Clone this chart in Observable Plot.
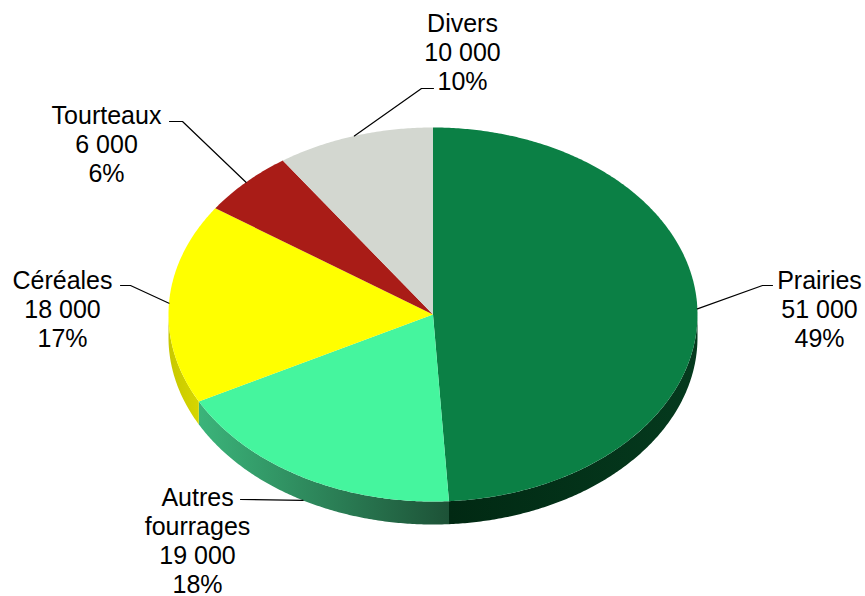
<!DOCTYPE html>
<html>
<head>
<meta charset="utf-8">
<script src="https://cdn.jsdelivr.net/npm/d3@7"></script>
<script src="https://cdn.jsdelivr.net/npm/@observablehq/plot@0.6"></script>
<style>
  html, body { margin: 0; padding: 0; background: #fff; }
  #chart { width: 865px; height: 596px; }
</style>
</head>
<body>
<div id="chart"></div>
<script>
// ---- Data ----
const categories = ["Prairies", "Autres fourrages", "Céréales", "Tourteaux", "Divers"];
const labelNames = ["Prairies", "Autres\nfourrages", "Céréales", "Tourteaux", "Divers"];
const values = [51000, 19000, 18000, 6000, 10000];
const percents = ["49%", "18%", "17%", "6%", "10%"];

// ---- Styles ----
const topColors = ["#0b8045", "#45f59e", "#ffff00", "#a91c17", "#d3d7d0"];
const sideStops = [
  ["#012913", "#053a1e"],
  ["#3bb47a", "#1d5237"],
  ["#c8c800", "#d6d600"],
  ["#6e100d", "#6e100d"],
  ["#9a9d97", "#9a9d97"]
];

// ---- Layout (pie geometry and label placement) ----
const W = 865, H = 596;
const cx = 432.5, cy = 314, rx = 264.5, ry = 187, depth = 23;
const fontSize = 25, lineStep = 29.3;
// per slice: text centre x, first baseline y, elbow point, end of horizontal segment
const labelLayout = [
  {tx: 819, ty: 285, ex: 762, ey: 285, hx: 772},
  {tx: 197, ty: 502, ex: 240, ey: 499, hx: 240},
  {tx: 62,  ty: 285, ex: 130, ey: 285, hx: 120},
  {tx: 106, ty: 120, ex: 182, ey: 121, hx: 169},
  {tx: 462, ty: 28,  ex: 421, ey: 88,  hx: 433}
];

const pt = (a, dy = 0) => [cx + rx * Math.sin(a), cy - ry * Math.cos(a) + dy];
const arcs = d3.pie().sort(null).value(d => d)(values);

function arcPoints(a0, a1, dy) {
  const n = Math.max(2, Math.ceil((a1 - a0) / (Math.PI / 360)));
  const out = [];
  for (let k = 0; k <= n; k++) out.push(pt(a0 + (a1 - a0) * k / n, dy));
  return out;
}

const topRows = [];
const sideRows = [];
arcs.forEach((arc, i) => {
  const a0 = arc.startAngle, a1 = arc.endAngle;
  const poly = [[cx, cy], ...arcPoints(a0, a1, 0), [cx, cy]];
  poly.forEach(([x, y]) => topRows.push({slice: i, x, y, fill: topColors[i]}));
  const s0 = Math.max(a0, Math.PI / 2), s1 = Math.min(a1, 3 * Math.PI / 2);
  if (s0 < s1) {
    const upper = arcPoints(s0, s1, 0);
    const lower = arcPoints(s0, s1, depth).reverse();
    [...upper, ...lower, upper[0]].forEach(([x, y]) =>
      sideRows.push({slice: i, x, y, fill: `url(#side${i})`}));
  }
});

const fmt = v => d3.format(",")(v).replace(/,/g, " ");
const labelRows = arcs.map((arc, i) => {
  const L = labelLayout[i];
  return {x: L.tx, y: L.ty - 0.71 * fontSize, text: `${labelNames[i]}\n${fmt(values[i])}\n${percents[i]}`};
});

const leaderRows = [];
arcs.forEach((arc, i) => {
  const mid = (arc.startAngle + arc.endAngle) / 2;
  const onFront = Math.cos(mid) < 0;
  const [ax, ay] = pt(mid, onFront ? depth : 0);
  const L = labelLayout[i];
  leaderRows.push({slice: i, x: ax, y: ay});
  leaderRows.push({slice: i, x: L.ex, y: L.ey});
  if (L.hx !== L.ex) leaderRows.push({slice: i, x: L.hx, y: L.ey});
});

const svg = Plot.plot({
  width: W,
  height: H,
  margin: 0,
  x: {domain: [0, W], range: [0, W], axis: null},
  y: {domain: [0, H], range: [0, H], axis: null},
  color: {type: "identity"},
  style: {fontFamily: "'Liberation Sans', Arial, sans-serif", background: "#fff"},
  marks: [
    Plot.line(sideRows, {x: "x", y: "y", z: "slice", fill: "fill", stroke: "none", curve: "linear"}),
    Plot.line(topRows, {x: "x", y: "y", z: "slice", fill: "fill", stroke: "none", curve: "linear"}),
    Plot.line(leaderRows, {x: "x", y: "y", z: "slice", stroke: "#000", strokeWidth: 1.2, curve: "linear"}),
    Plot.text(labelRows, {x: "x", y: "y", text: "text", textAnchor: "middle", lineAnchor: "top",
      lineHeight: lineStep / fontSize, fontSize: fontSize, fill: "#000"})
  ]
});

const defs = d3.select(svg).insert("defs", ":first-child");
sideStops.forEach((stops, i) => {
  const g = defs.append("linearGradient").attr("id", `side${i}`)
    .attr("x1", 0).attr("y1", 0).attr("x2", 1).attr("y2", 0);
  g.append("stop").attr("offset", 0).attr("stop-color", stops[0]);
  g.append("stop").attr("offset", 1).attr("stop-color", stops[1]);
});

document.getElementById("chart").appendChild(svg);
</script>
</body>
</html>
